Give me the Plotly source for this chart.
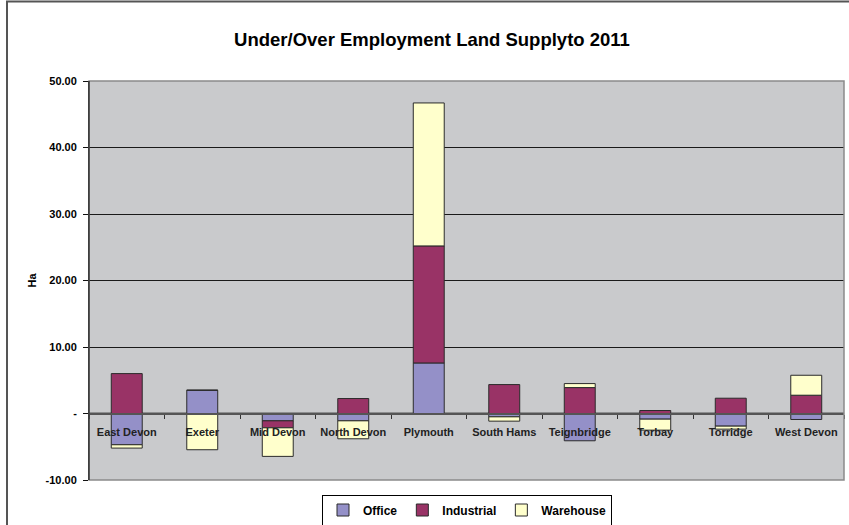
import plotly.graph_objects as go

categories = ["East Devon", "Exeter", "Mid Devon", "North Devon", "Plymouth",
              "South Hams", "Teignbridge", "Torbay", "Torridge", "West Devon"]
office = [-4.7, 3.5, -1.1, -1.1, 7.6, -0.5, -4.1, -0.85, -1.9, -0.9]
industrial = [6.0, 0.0, -1.05, 2.25, 17.6, 4.35, 3.9, 0.45, 2.3, 2.75]
warehouse = [-0.5, -5.45, -4.3, -2.7, 21.5, -0.65, 0.6, -1.65, -0.45, 3.0]

y_ticks = [-10, 0, 10, 20, 30, 40, 50]
y_ticktext = ["-10.00", "-", "10.00", "20.00", "30.00", "40.00", "50.00"]

FONT = "Arial, 'Liberation Sans', sans-serif"
line = dict(color="#2b2b2b", width=1)

fig = go.Figure()
fig.add_bar(x=categories, y=office, name="Office",
            marker=dict(color="#9490C8", line=line))
fig.add_bar(x=categories, y=industrial, name="Industrial",
            marker=dict(color="#993366", line=line))
fig.add_bar(x=categories, y=warehouse, name="Warehouse",
            marker=dict(color="#FFFFCC", line=line))

ymin, ymax = -10, 50
fig.update_layout(
    barmode="relative",
    bargap=0.59,
    width=849, height=525,
    margin=dict(l=89, r=5, t=81, b=45, autoexpand=False),
    paper_bgcolor="white",
    plot_bgcolor="#C9CACC",
    font=dict(family=FONT, size=11, color="black"),
    title=dict(text="Under/Over Employment Land Supplyto 2011",
               x=432 / 849, xanchor="center", y=1 - 40 / 525, yanchor="middle",
               font=dict(size=18.5, color="black", weight="bold")),
    showlegend=True,
    legend=dict(orientation="h", x=(467 - 89) / 755, xanchor="center",
                y=-(510 - 480) / 399, yanchor="middle",
                bgcolor="white", bordercolor="black", borderwidth=1,
                font=dict(size=12, color="black", family=FONT, weight="bold"),
                itemwidth=30, tracegroupgap=0),
    xaxis=dict(
        anchor="free", position=(0 - ymin) / (ymax - ymin),
        showline=True, linecolor="#555555", linewidth=2,
        ticks="outside", tickson="boundaries", ticklen=4, tickcolor="#333333",
        ticklabelstandoff=8, tickangle=0,
        tickfont=dict(size=11, color="#222222", family=FONT, weight="bold"),
        showgrid=False, zeroline=False,
    ),
    yaxis=dict(
        range=[ymin, ymax], tickvals=y_ticks, ticktext=y_ticktext,
        showgrid=True, gridcolor="#1a1a1a", gridwidth=1,
        zeroline=False,
        showline=True, linecolor="#111111", linewidth=1,
        ticks="outside", ticklen=5, tickcolor="#111111",
        ticklabelstandoff=4,
        tickfont=dict(size=11, color="black", family=FONT, weight="bold"),
        title=dict(text="Ha", font=dict(size=11, weight="bold"), standoff=6),
    ),
)

# plot area frame (top/right/bottom grey) and outer chart border
fig.add_shape(type="rect", xref="paper", yref="paper", x0=0, x1=1, y0=0, y1=1,
              line=dict(color="#8a8a8a", width=1.5), layer="above")
fig.add_shape(type="line", xref="x domain", yref="y domain", x0=0, x1=0, y0=0, y1=1,
              line=dict(color="#111111", width=1), layer="above")
fig.add_shape(type="rect", xref="paper", yref="paper",
              x0=(7 - 89) / 755, x1=(860 - 89) / 755,
              y0=-(540 - 480) / 399, y1=(480 - 1.5) / 399,
              line=dict(color="#555555", width=2), layer="below")

# zero line
fig.add_hline(y=0, line=dict(color="#555555", width=2), layer="below")

fig.write_html("out.html")
